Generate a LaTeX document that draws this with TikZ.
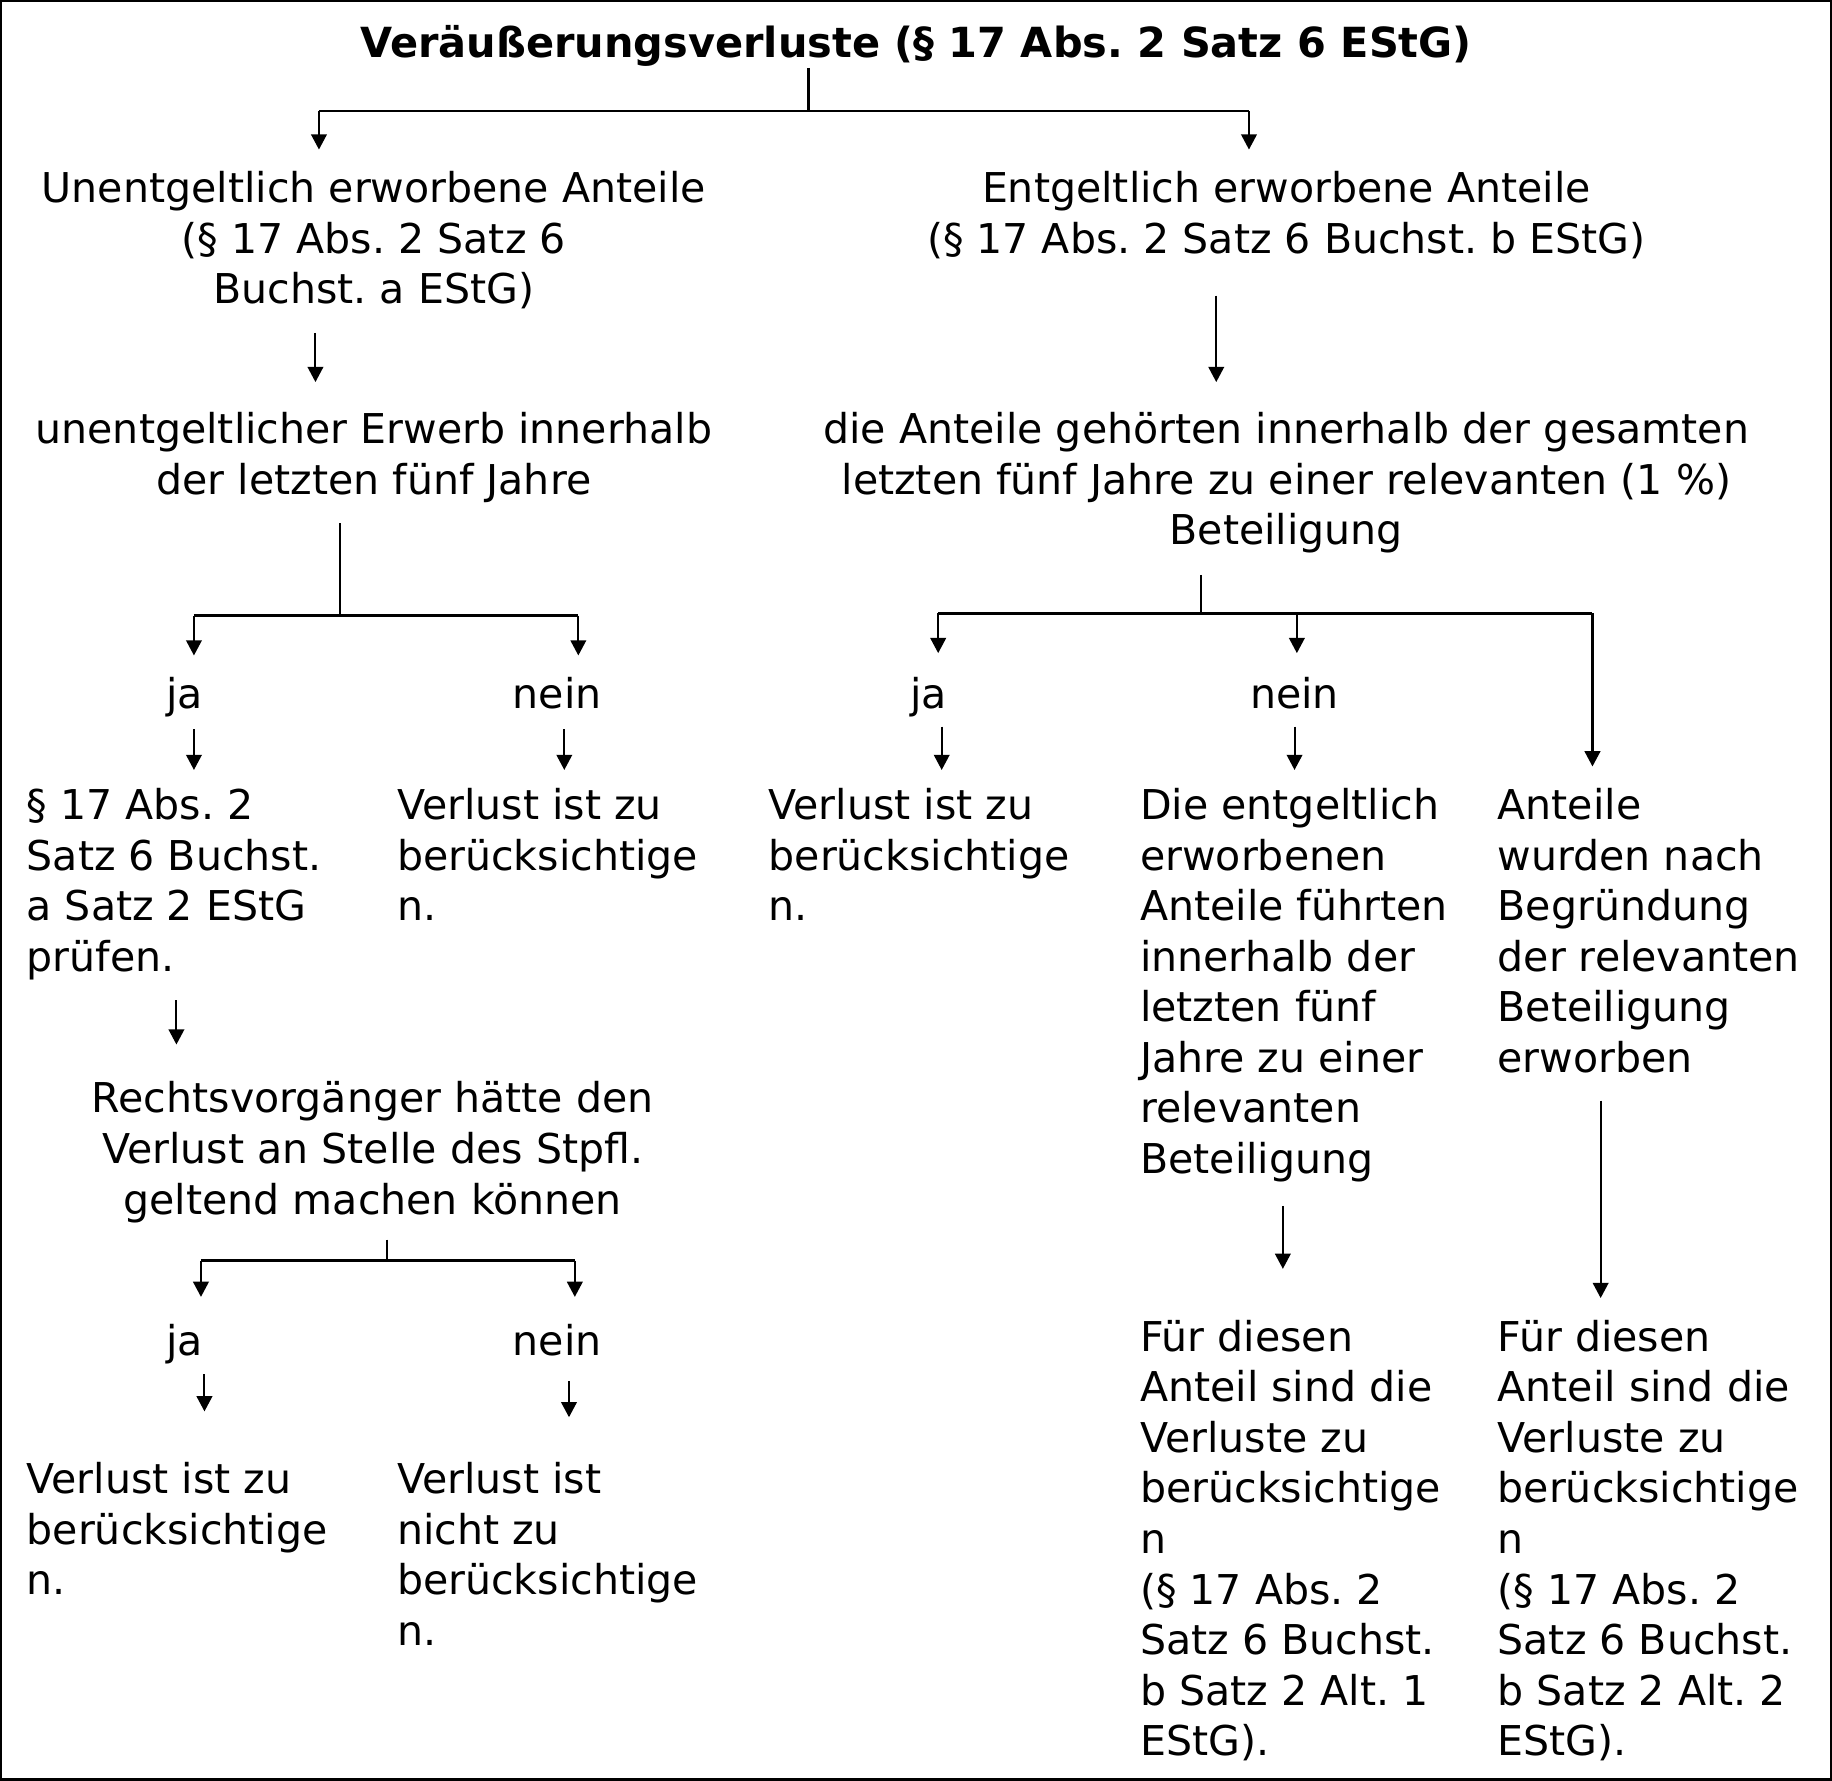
\documentclass[tikz,border=0pt]{standalone}
\usepackage{fontspec}
\setmainfont{DejaVu Sans}
\usetikzlibrary{arrows.meta}
\frenchspacing
\begin{document}
\begin{tikzpicture}[x=0.01cm,y=-0.01cm,line width=0.5pt]
	\tikzstyle{every node} = [inner sep=0pt,font=\fontsize{10}{12.3}\selectfont,execute at begin node={\strut}]
	\tikzstyle{mid} = [anchor=north,align=center]
	\tikzstyle{lft} = [anchor=north west,align=left]
	\tikzstyle{pfeil} = [-{Triangle[length=3.7pt,width=3.8pt]}]
	\tikzstyle{bus} = [line width=0.7pt]
	\useasboundingbox (0,0) rectangle (1568,1524);
	\draw [line width=0.6pt] (1,1) rectangle (1567,1523);

	% oberste Ebene (Oberkante = Grundlinie - 30)
	\node (titel) [mid,font=\fontsize{10.1}{12.3}\selectfont\bfseries] at (784,18) {Veräußerungsverluste (§ 17 Abs. 2 Satz 6 EStG)};
	\node (unentg) [mid] at (320,146) {Unentgeltlich erworbene Anteile\\(§ 17 Abs. 2 Satz 6\\Buchst. a EStG)};
	\node (entg) [mid] at (1101,146) {Entgeltlich erworbene Anteile\\(§ 17 Abs. 2 Satz 6 Buchst. b EStG)};
	\coordinate (t0) at (692,58);
	\coordinate (t1) at (692,95);
	\draw (t0) -- (t1);
	\draw [bus] (273,95) -- (1069,95);
	\draw [pfeil] (273,95) -- (273,128);
	\draw [pfeil] (1069,95) -- (1069,128);

	% linke Seite
	\node (erwerb) [mid] at (320,352) {unentgeltlicher Erwerb innerhalb\\der letzten fünf Jahre};
	\draw [pfeil] (270,285) -- (270,327);
	\draw (291,448) -- (291,527);
	\draw [bus] (166,527) -- (495,527);
	\draw [pfeil] (166,527) -- (166,561);
	\draw [pfeil] (495,527) -- (495,561);
	\node (ja1) [mid] at (158,575) {ja};
	\node (nein1) [mid] at (477,575) {nein};
	\draw [pfeil] (166,624) -- (166,659);
	\draw [pfeil] (483,624) -- (483,659);
	\node (pruefen) [lft] at (22,674) {§ 17 Abs. 2\\Satz 6 Buchst.\\a Satz 2 EStG\\prüfen.};
	\node (verlust1) [lft] at (339,674) {Verlust ist zu\\berücksichtige\\n.};
	\draw [pfeil] (151,856) -- (151,894);
	\node (rechtsv) [mid] at (319,925) {Rechtsvorgänger hätte den\\Verlust an Stelle des Stpfl.\\geltend machen können};
	\draw (331,1061) -- (331,1079);
	\draw [bus] (172,1079) -- (492,1079);
	\draw [pfeil] (172,1079) -- (172,1110);
	\draw [pfeil] (492,1079) -- (492,1110);
	\node (ja3) [mid] at (158,1129) {ja};
	\node (nein3) [mid] at (477,1129) {nein};
	\draw [pfeil] (175,1176) -- (175,1208);
	\draw [pfeil] (487,1182) -- (487,1213);
	\node (verlust3) [lft] at (22,1251) {Verlust ist zu\\berücksichtige\\n.};
	\node (nicht) [lft] at (339,1251) {Verlust ist\\nicht zu\\berücksichtige\\n.};

	% rechte Seite
	\draw [pfeil] (1041,253) -- (1041,327);
	\node (beteil) [mid] at (1101,352) {die Anteile gehörten innerhalb der gesamten\\letzten fünf Jahre zu einer relevanten (1 \%)\\Beteiligung};
	\draw (1028,492) -- (1028,525);
	\draw [bus] (803,525) -- (1363,525);
	\draw [pfeil] (803,525) -- (803,559);
	\draw [pfeil] (1110,525) -- (1110,559);
	\draw [pfeil] (1363,525) -- (1363,656);
	\node (ja2) [mid] at (795,575) {ja};
	\node (nein2) [mid] at (1108,575) {nein};
	\draw [pfeil] (806,622) -- (806,659);
	\draw [pfeil] (1108,622) -- (1108,659);
	\node (verlust2) [lft] at (657,674) {Verlust ist zu\\berücksichtige\\n.};
	\node (fuehrten) [lft] at (975,674) {Die entgeltlich\\erworbenen\\Anteile führten\\innerhalb der\\letzten fünf\\Jahre zu einer\\relevanten\\Beteiligung};
	\node (nach) [lft] at (1281,674) {Anteile\\wurden nach\\Begründung\\der relevanten\\Beteiligung\\erworben};
	\draw [pfeil] (1098,1032) -- (1098,1086);
	\draw [pfeil] (1370,942) -- (1370,1111);
	\node (alt1) [lft] at (975,1129) {Für diesen\\Anteil sind die\\Verluste zu\\berücksichtige\\n\\(§ 17 Abs. 2\\Satz 6 Buchst.\\b Satz 2 Alt. 1\\EStG).};
	\node (alt2) [lft] at (1281,1129) {Für diesen\\Anteil sind die\\Verluste zu\\berücksichtige\\n\\(§ 17 Abs. 2\\Satz 6 Buchst.\\b Satz 2 Alt. 2\\EStG).};
\end{tikzpicture}
\end{document}
